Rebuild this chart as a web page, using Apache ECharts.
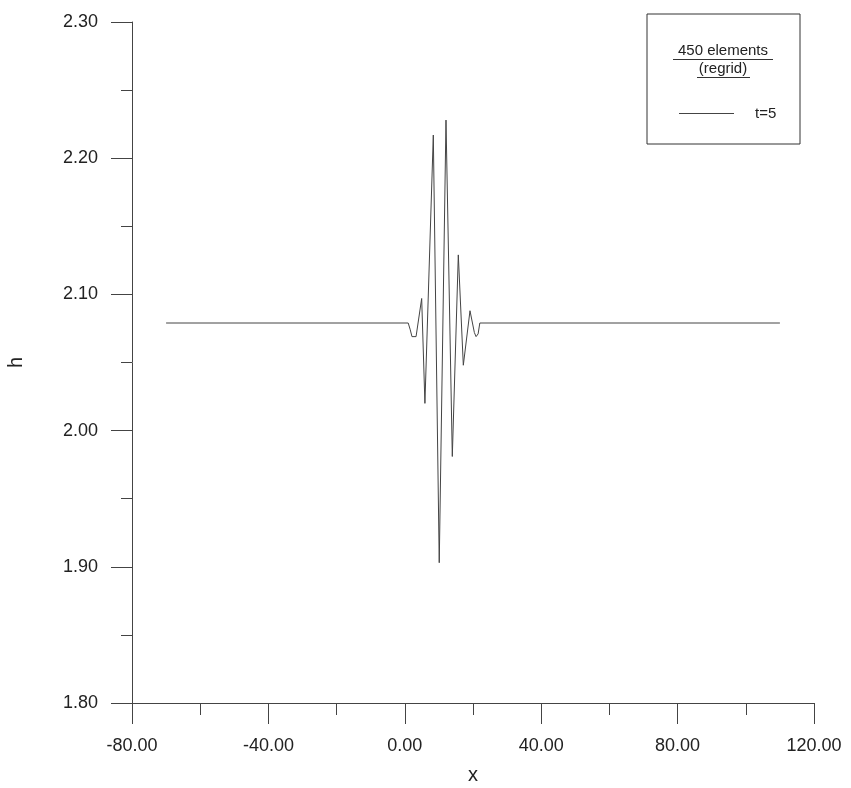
<!DOCTYPE html>
<html>
<head>
<meta charset="utf-8">
<script src="https://cdn.jsdelivr.net/npm/echarts@6/dist/echarts.min.js"></script>
<style>
    html, body { margin: 0; padding: 0; background: #fff; overflow: hidden; }
    #main { width: 851px; height: 788px; }
</style>
</head>
<body>
<div id="main"></div>
<script>
// free surface h along x at t=5
var xs = [-70, 1.0, 1.6, 2.1, 3.3, 4.95, 5.9, 8.36, 10.1, 12.08, 13.93, 15.69, 17.16, 19.12, 20.4, 20.9, 21.5, 22.0, 110];
var hs = [2.079, 2.079, 2.074, 2.069, 2.069, 2.097, 2.020, 2.217, 1.903, 2.228, 1.981, 2.129, 2.048, 2.088, 2.072, 2.069, 2.071, 2.079, 2.079];
var seriesName = 't=5';
var legendTitle = ['450 elements', '(regrid)'];

var xTicks = { min: -80, max: 120, interval: 40 };
var yTicks = { min: 1.8, max: 2.3, interval: 0.1 };

var points = [];
for (var i = 0; i < xs.length; i++) {
    points.push([xs[i], hs[i]]);
}

var font = 'Liberation Sans, Arial, sans-serif';
var axisColor = '#444';
var textColor = '#222';

var chart = echarts.init(document.getElementById('main'));

var option = {
    backgroundColor: '#fff',
    animation: false,
    grid: {
        left: 132,
        top: 22,
        right: 37,
        bottom: 85,
        containLabel: false,
        outerBoundsMode: 'none'
    },
    legend: {
        data: [seriesName],
        left: 674,
        top: 101,
        icon: 'rect',
        itemWidth: 55,
        itemHeight: 1,
        textStyle: { fontFamily: font, fontSize: 15, color: textColor, padding: [0, 0, 0, 16] }
    },
    xAxis: {
        type: 'value',
        min: xTicks.min,
        max: xTicks.max,
        interval: xTicks.interval,
        name: 'x',
        nameLocation: 'middle',
        nameGap: 62,
        nameTextStyle: { fontFamily: font, fontSize: 20, color: textColor },
        axisLine: { onZero: false, lineStyle: { color: axisColor, width: 1 } },
        axisTick: { show: true, length: 21, lineStyle: { color: axisColor } },
        minorTick: { show: true, splitNumber: 2, length: 12, lineStyle: { color: axisColor } },
        splitLine: { show: false },
        minorSplitLine: { show: false },
        axisLabel: {
            margin: 34,
            fontFamily: font,
            fontSize: 18,
            color: textColor,
            formatter: function (v) { return v.toFixed(2); }
        }
    },
    yAxis: {
        type: 'value',
        min: yTicks.min,
        max: yTicks.max,
        interval: yTicks.interval,
        name: 'h',
        nameLocation: 'middle',
        nameGap: 106,
        nameRotate: 90,
        nameTextStyle: { fontFamily: font, fontSize: 20, color: textColor },
        axisLine: { show: true, onZero: false, lineStyle: { color: axisColor, width: 1 } },
        axisTick: { show: true, length: 21, lineStyle: { color: axisColor } },
        minorTick: { show: true, splitNumber: 2, length: 11, lineStyle: { color: axisColor } },
        splitLine: { show: false },
        minorSplitLine: { show: false },
        axisLabel: {
            margin: 34,
            fontFamily: font,
            fontSize: 18,
            color: textColor,
            formatter: function (v) { return v.toFixed(2); }
        }
    },
    graphic: [
        {   // legend frame
            type: 'rect',
            shape: { x: 647, y: 14, width: 153, height: 130 },
            style: { fill: 'none', stroke: '#333', lineWidth: 1 }
        },
        {
            type: 'text',
            style: { text: legendTitle[0], x: 723, y: 51, align: 'center', verticalAlign: 'middle', font: '15px ' + font, fill: textColor }
        },
        {
            type: 'line',
            shape: { x1: 673, y1: 59.5, x2: 773, y2: 59.5 },
            style: { stroke: '#333', lineWidth: 1 }
        },
        {
            type: 'text',
            style: { text: legendTitle[1], x: 723, y: 69, align: 'center', verticalAlign: 'middle', font: '15px ' + font, fill: textColor }
        },
        {
            type: 'line',
            shape: { x1: 697, y1: 77.5, x2: 750, y2: 77.5 },
            style: { stroke: '#333', lineWidth: 1 }
        }
    ],
    series: [
        {
            name: seriesName,
            type: 'line',
            data: points,
            symbol: 'none',
            showSymbol: false,
            lineStyle: { color: '#444', width: 1 },
            itemStyle: { color: '#444' }
        }
    ]
};

chart.setOption(option);
</script>
</body>
</html>
